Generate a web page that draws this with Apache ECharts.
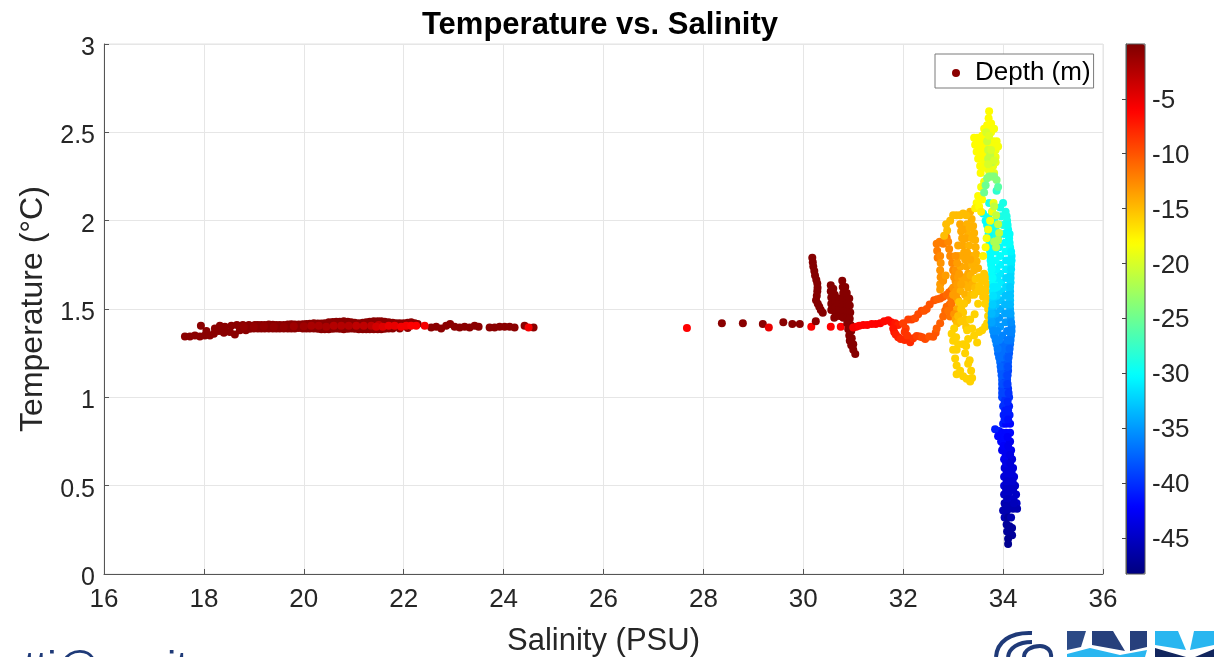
<!DOCTYPE html>
<html><head><meta charset="utf-8">
<style>html,body{margin:0;padding:0;background:#fff;overflow:hidden}#c{width:1214px;height:657px}</style>
<script src="https://cdn.jsdelivr.net/npm/echarts@6/dist/echarts.min.js"></script>
</head><body><div id="c"></div>
<script>
// each point: [salinity PSU, temperature C, depth m]
const bandDark = [[17.62,1.345,-0.5],[17.72,1.345,-0.5],[17.82,1.35,-0.5],[17.92,1.345,-0.5],[18.02,1.35,-0.5],[18.12,1.35,-0.5],[17.94,1.405,-0.5],[18.05,1.375,-0.5],[18.2,1.36,-0.5],[18.22,1.39,-0.5],[18.3,1.375,-0.5],[18.32,1.405,-0.5],[18.4,1.365,-0.5],[18.42,1.4,-0.5],[18.52,1.37,-0.5],[18.55,1.405,-0.5],[18.62,1.355,-0.5],[18.66,1.41,-0.5],[18.72,1.38,-0.5],[18.78,1.41,-0.5],[18.84,1.38,-0.5],[18.9,1.41,-0.5],[19.02,1.41,-0.5],[19.0,1.39,-0.5],[19.15,1.41,-0.5],[19.15,1.39,-0.5],[19.3,1.412,-0.5],[19.3,1.39,-0.5],[19.45,1.41,-0.5],[19.45,1.39,-0.5],[19.6,1.41,-0.5],[19.6,1.39,-0.5],[19.75,1.413,-0.5],[19.75,1.39,-0.5],[19.9,1.412,-0.5],[19.9,1.392,-0.5],[20.05,1.415,-0.5],[20.05,1.39,-0.5],[20.2,1.42,-0.5],[20.2,1.39,-0.5],[20.35,1.418,-0.5],[20.35,1.385,-0.5],[20.5,1.425,-0.5],[20.5,1.385,-0.5],[20.65,1.428,-0.5],[20.65,1.39,-0.5],[20.8,1.43,-0.5],[20.8,1.385,-0.5],[20.95,1.425,-0.5],[20.95,1.39,-0.5],[21.1,1.42,-0.5],[21.1,1.385,-0.5],[21.25,1.425,-0.5],[21.25,1.385,-0.5],[21.4,1.43,-0.5],[21.4,1.385,-0.5],[21.55,1.43,-0.5],[21.55,1.385,-0.5],[21.7,1.425,-0.5],[21.7,1.39,-0.5],[21.85,1.42,-0.5],[22.0,1.42,-0.5],[22.15,1.425,-0.5],[22.28,1.415,-0.5],[22.55,1.395,-0.5],[22.65,1.40,-0.5],[22.75,1.39,-0.5],[22.85,1.405,-0.5],[22.93,1.415,-0.5],[23.02,1.40,-0.5],[23.12,1.395,-0.5],[23.22,1.40,-0.5],[23.32,1.395,-0.5],[23.42,1.405,-0.5],[23.5,1.40,-0.5],[23.72,1.395,-0.5],[23.82,1.395,-0.5],[23.92,1.40,-0.5],[24.02,1.40,-0.5],[24.12,1.40,-0.5],[24.22,1.395,-0.5],[24.42,1.405,-0.5],[24.6,1.395,-0.5]];
const bandFill = [[18.92,1.388,-0.5],[19.08,1.41,-0.5],[19.08,1.39,-0.5],[19.22,1.41,-0.5],[19.22,1.39,-0.5],[19.38,1.411,-0.5],[19.38,1.39,-0.5],[19.52,1.41,-0.5],[19.52,1.39,-0.5],[19.68,1.412,-0.5],[19.68,1.39,-0.5],[19.82,1.412,-0.5],[19.82,1.39,-0.5],[19.98,1.413,-0.5],[19.98,1.39,-0.5],[20.12,1.417,-0.5],[20.12,1.39,-0.5],[20.28,1.418,-0.5],[20.28,1.388,-0.5],[20.42,1.42,-0.5],[20.42,1.385,-0.5],[20.58,1.426,-0.5],[20.58,1.388,-0.5],[20.72,1.428,-0.5],[20.72,1.388,-0.5],[20.88,1.428,-0.5],[20.88,1.388,-0.5],[21.02,1.422,-0.5],[21.02,1.388,-0.5],[21.18,1.422,-0.5],[21.18,1.385,-0.5],[21.32,1.428,-0.5],[21.32,1.385,-0.5],[21.48,1.43,-0.5],[21.48,1.385,-0.5],[21.62,1.428,-0.5],[21.62,1.388,-0.5],[21.78,1.422,-0.5],[21.78,1.39,-0.5],[21.92,1.42,-0.5],[21.92,1.39,-0.5],[22.08,1.422,-0.5],[22.08,1.392,-0.5],[22.22,1.42,-0.5]];
const bandMid = [[18.8,1.40,-1],[19.0,1.40,-1],[19.2,1.402,-1],[19.4,1.40,-1],[19.6,1.40,-1],[19.8,1.402,-1.5],[20.0,1.402,-1.5],[20.15,1.405,-2],[20.3,1.405,-2],[20.45,1.40,-2],[20.6,1.405,-2.5],[20.75,1.405,-2.5],[20.9,1.405,-2.5],[21.05,1.405,-3],[21.2,1.405,-3],[21.35,1.405,-3],[21.5,1.41,-3]];
const bandRed = [[21.45,1.40,-4],[21.58,1.40,-4.5],[21.7,1.405,-5],[21.82,1.405,-5],[21.95,1.40,-5.5],[22.05,1.405,-5.5],[22.15,1.405,-6],[22.25,1.405,-6],[22.42,1.405,-5.5],[24.5,1.395,-5.5]];
const sparseDots = [[27.67,1.392,-6],[28.37,1.42,-0.5],[28.79,1.42,-0.5],[29.19,1.415,-0.5],[29.31,1.395,-5],[29.6,1.425,-0.5],[29.78,1.415,-0.5],[29.93,1.415,-0.5],[30.16,1.40,-6],[30.25,1.43,-0.5],[30.55,1.40,-6],[30.75,1.40,-6]];
const darkSpike = [[30.18,1.79,-0.3],[30.19,1.765,-0.3],[30.2,1.74,-0.3],[30.22,1.715,-0.3],[30.235,1.69,-0.3],[30.26,1.665,-0.3],[30.28,1.645,-0.3],[30.285,1.62,-0.3],[30.28,1.60,-0.3],[30.27,1.575,-0.3],[30.255,1.55,-0.3],[30.29,1.53,-0.3],[30.32,1.513,-0.3],[30.35,1.495,-0.3],[30.39,1.479,-0.3]];
const darkBlock = [[30.55,1.635,-0.3],[30.55,1.60,-0.3],[30.56,1.565,-0.3],[30.56,1.53,-0.3],[30.56,1.495,-0.3],[30.6,1.615,-0.3],[30.63,1.58,-0.3],[30.64,1.545,-0.3],[30.65,1.51,-0.3],[30.65,1.475,-0.3],[30.62,1.45,-0.3],[30.72,1.56,-0.3],[30.72,1.525,-0.3],[30.72,1.49,-0.3],[30.72,1.46,-0.3],[30.78,1.66,-0.3],[30.79,1.625,-0.3],[30.8,1.59,-0.3],[30.8,1.555,-0.3],[30.8,1.52,-0.3],[30.8,1.485,-0.3],[30.8,1.45,-0.3],[30.84,1.625,-0.3],[30.87,1.59,-0.3],[30.88,1.555,-0.3],[30.88,1.52,-0.3],[30.88,1.485,-0.3],[30.88,1.45,-0.3],[30.92,1.56,-0.3],[30.93,1.52,-0.3],[30.94,1.48,-0.3],[30.93,1.445,-0.3],[30.95,1.41,-0.3],[30.88,1.42,-0.3],[30.9,1.385,-0.3],[30.96,1.375,-0.3],[30.92,1.35,-0.3],[30.93,1.32,-0.3],[30.97,1.335,-0.3],[30.96,1.295,-0.3],[31.0,1.30,-0.3],[31.0,1.27,-0.3],[31.04,1.245,-0.3]];
const redPath = [[31.0,1.395,-5.5],[31.06,1.40,-5.5],[31.12,1.405,-6],[31.2,1.41,-6],[31.28,1.41,-6],[31.37,1.415,-6],[31.45,1.415,-6],[31.54,1.42,-6],[31.62,1.43,-6.5],[31.7,1.437,-6.5],[31.76,1.425,-6.5],[31.84,1.42,-7],[31.9,1.41,-7.5],[31.8,1.39,-7],[31.82,1.37,-7],[31.85,1.355,-7.5],[31.9,1.34,-7.5],[31.95,1.33,-8],[32.03,1.325,-8],[32.1,1.33,-8],[32.14,1.312,-8],[32.2,1.335,-8.5]];
const orangePath = [[32.0,1.42,-9],[32.05,1.39,-9],[32.03,1.37,-8.5],[32.08,1.35,-8.5],[32.1,1.44,-9],[32.17,1.44,-9],[32.24,1.447,-9.5],[32.3,1.47,-9.5],[32.37,1.49,-9.5],[32.42,1.49,-10],[32.47,1.50,-10],[32.53,1.525,-10],[32.62,1.55,-10],[32.68,1.555,-10.5],[32.74,1.56,-10.5],[32.8,1.57,-10.5],[32.87,1.58,-11],[32.92,1.595,-11],[32.97,1.607,-11],[32.27,1.347,-9],[32.33,1.345,-9],[32.38,1.34,-9.5],[32.44,1.33,-9.5],[32.52,1.345,-10],[32.6,1.343,-10],[32.65,1.365,-10],[32.67,1.39,-10.5],[32.74,1.42,-10.5],[32.8,1.457,-11],[32.84,1.49,-11],[32.87,1.513,-11],[32.93,1.525,-11],[32.97,1.53,-11.5],[32.94,1.457,-11.5],[32.9,1.49,-11.5],[32.96,1.49,-11.5],[32.96,1.56,-11.5]];
const orangeZigzag = [[32.67,1.87,-12],[32.73,1.88,-12],[32.8,1.87,-12],[32.87,1.905,-12],[32.68,1.83,-12],[32.69,1.79,-12],[32.74,1.80,-12.5],[32.75,1.76,-13],[32.74,1.72,-13],[32.75,1.68,-13],[32.74,1.64,-13.5],[32.74,1.61,-13.5],[32.8,1.66,-13],[32.9,1.88,-12.5],[32.92,1.84,-12.5],[32.94,1.80,-12.5],[32.98,1.76,-12.5],[33.0,1.72,-12.5],[33.02,1.68,-13],[33.05,1.72,-13],[33.05,1.655,-13],[33.0,1.62,-13],[33.06,1.60,-13.5],[33.08,1.64,-13.5],[33.1,1.68,-13.5],[32.85,1.69,-13.5],[33.0,1.58,-13.5]];
const amberStripes = [[33.14,1.98,-14],[33.16,1.94,-14],[33.18,1.90,-14],[33.2,1.86,-14],[33.22,1.82,-14],[33.24,1.78,-14],[33.27,1.74,-14],[33.3,1.70,-14],[33.32,1.66,-14],[33.34,2.05,-14.5],[33.37,2.01,-14.5],[33.4,1.97,-14.5],[33.42,1.93,-14.5],[33.44,1.89,-14.5],[33.45,1.85,-14.5],[33.46,1.81,-14.5],[33.47,1.77,-14.5],[33.5,1.73,-14.5],[33.26,2.03,-15],[33.2,2.04,-15],[33.14,2.03,-15],[33.07,2.03,-15],[33.0,2.03,-15],[32.94,2.0,-15],[32.86,1.98,-15],[32.88,1.945,-15],[32.82,1.915,-15],[33.28,1.98,-14.5],[33.3,1.92,-14.5],[33.32,1.86,-14.5],[33.36,1.80,-14.5],[33.38,1.75,-14.5],[33.1,1.86,-14],[33.12,1.80,-14],[33.15,1.74,-14],[33.18,1.68,-14],[33.22,1.64,-14.5],[33.3,1.62,-14.5],[33.38,1.64,-14.5],[33.15,1.60,-14.5],[33.24,1.58,-14.5],[33.1,1.55,-14]];
const amberFill = [[33.2,1.95,-14],[33.25,1.9,-14],[33.38,1.9,-14.5],[33.33,1.96,-14.5],[33.28,1.82,-14],[33.34,1.78,-14],[33.42,1.72,-14.5],[33.26,1.68,-14],[33.35,1.69,-14.5],[33.12,1.7,-13.5],[33.08,1.76,-13.5],[33.05,1.8,-13],[33.16,1.64,-14],[33.28,1.55,-15],[33.36,1.58,-15],[33.44,1.62,-15],[33.52,1.63,-15.5],[33.6,1.57,-15.5],[33.08,1.5,-14],[33.02,1.47,-13],[33.06,1.57,-13.5],[33.05,1.44,-14]];
const goldScatter = [[33.45,1.67,-15.5],[33.52,1.68,-15.5],[33.58,1.66,-15.5],[33.62,1.70,-15.5],[33.66,1.68,-15.5],[33.68,1.64,-15.5],[33.6,1.61,-15.5],[33.5,1.60,-15.5],[33.42,1.58,-15.5],[33.66,1.60,-15.5],[33.68,1.56,-15.5],[33.64,1.53,-16],[33.12,1.54,-15.5],[33.16,1.50,-15.5],[33.2,1.48,-15.5],[33.22,1.53,-15.5],[33.1,1.46,-15],[33.08,1.42,-15],[33.16,1.43,-15.5],[33.24,1.44,-15.5],[33.26,1.40,-15.5],[33.02,1.39,-16],[32.97,1.36,-16],[33.0,1.32,-16],[33.06,1.34,-16],[33.1,1.30,-16],[33.07,1.27,-16],[33.0,1.27,-16],[33.04,1.22,-16],[33.07,1.18,-16],[33.07,1.13,-16],[33.14,1.15,-16],[33.2,1.12,-16],[33.27,1.105,-16],[33.34,1.09,-16],[33.38,1.11,-16],[33.36,1.15,-16],[33.3,1.19,-16],[33.33,1.21,-16],[33.24,1.25,-16],[33.2,1.3,-16],[33.26,1.29,-16],[33.3,1.33,-16],[33.28,1.38,-16],[33.34,1.44,-16],[33.38,1.39,-16],[33.42,1.35,-16],[33.48,1.31,-16],[33.52,1.37,-16],[33.58,1.38,-16],[33.64,1.40,-16],[33.68,1.42,-16],[33.7,1.46,-16],[33.7,1.5,-16],[33.5,1.53,-16],[33.43,1.47,-16]];
const yellowCrest = [[33.72,2.62,-18],[33.71,2.58,-18],[33.73,2.54,-18],[33.76,2.50,-18.5],[33.68,2.50,-18],[33.64,2.47,-18],[33.58,2.48,-18],[33.42,2.47,-18],[33.44,2.43,-18],[33.47,2.39,-18],[33.5,2.35,-18],[33.54,2.31,-18],[33.55,2.27,-18],[33.52,2.46,-18],[33.55,2.42,-18],[33.6,2.40,-18],[33.66,2.43,-18],[33.72,2.43,-19],[33.8,2.45,-19],[33.87,2.45,-18.5],[33.85,2.40,-19],[33.8,2.36,-19],[33.75,2.38,-19],[33.68,2.36,-18.5],[33.62,2.34,-18.5],[33.74,2.32,-19],[33.8,2.31,-19],[33.76,2.27,-19],[33.82,2.27,-19.5],[33.62,2.22,-18.5],[33.56,2.19,-18.5],[33.5,2.14,-18],[33.47,2.10,-18],[33.44,2.07,-17.5],[33.52,2.08,-18],[33.56,2.05,-17.5],[33.58,2.12,-18]];
const yellowFill = [[33.62,2.52,-18],[33.68,2.54,-18],[33.76,2.55,-18],[33.82,2.52,-18.5],[33.48,2.47,-18],[33.55,2.45,-18],[33.6,2.45,-18],[33.7,2.47,-18.5],[33.76,2.44,-18.5],[33.82,2.42,-18.5],[33.9,2.42,-18.5],[33.56,2.37,-18],[33.63,2.38,-18],[33.7,2.39,-18.5],[33.78,2.4,-18.5],[33.85,2.36,-19],[33.62,2.3,-18.5],[33.68,2.31,-18.5],[33.85,2.33,-19],[33.72,2.28,-19],[33.8,2.25,-19.5]];
const limeCap = [[33.66,2.50,-20],[33.68,2.45,-20.5],[33.7,2.40,-20.5],[33.7,2.35,-21],[33.74,2.37,-21],[33.78,2.33,-21],[33.72,2.48,-19.5],[33.76,2.4,-20],[33.82,2.34,-20],[33.7,2.32,-20],[33.68,2.24,-24],[33.72,2.25,-24],[33.77,2.25,-24],[33.82,2.25,-24],[33.65,2.2,-25],[33.87,2.23,-24],[33.62,2.16,-25],[33.9,2.19,-26]];
const deepColumn = [[33.6,2.04,-30],[33.65,2.0,-30],[33.7,1.95,-30],[33.72,1.9,-30],[33.74,1.85,-30],[33.74,1.8,-30],[33.76,1.75,-30],[33.78,1.7,-30],[33.8,1.65,-30],[33.8,1.6,-31],[33.8,1.55,-32],[33.78,1.5,-33],[33.77,1.45,-34],[33.78,1.4,-35],[33.82,1.35,-36],[33.87,1.3,-36],[33.9,1.25,-37],[33.94,1.2,-37],[33.96,1.15,-38],[33.98,1.1,-38],[33.98,1.05,-39],[33.98,1.0,-39],[33.72,2.1,-29],[33.78,2.05,-29],[33.82,2.0,-29],[33.85,1.95,-29],[33.9,1.9,-30],[33.92,1.85,-30],[33.94,1.8,-30],[33.94,1.75,-30.5],[33.94,1.7,-31],[33.96,1.65,-31],[33.96,1.6,-32],[33.95,1.55,-33],[33.94,1.5,-34],[33.92,1.45,-35],[33.94,1.4,-35],[33.98,1.35,-36],[34.0,1.3,-37],[34.02,1.25,-37],[34.04,1.2,-38],[34.05,1.15,-38],[34.05,1.1,-39],[34.05,1.05,-39],[34.05,1.0,-40],[33.87,2.17,-28],[34.0,2.10,-29],[34.05,2.05,-29],[34.08,2.0,-29],[34.1,1.95,-30],[34.12,1.9,-30],[34.14,1.85,-30],[34.17,1.8,-31],[34.16,1.75,-31],[34.15,1.7,-32],[34.15,1.65,-32],[34.14,1.6,-33],[34.14,1.55,-33],[34.14,1.5,-34],[34.15,1.45,-35],[34.17,1.4,-36],[34.16,1.35,-36],[34.14,1.3,-37],[34.12,1.25,-38],[34.1,1.2,-38],[34.1,1.15,-39],[34.08,1.1,-39],[34.1,1.05,-40],[34.12,1.0,-40]];
const columnFillLeft = [[33.7,2.02,-29],[33.76,1.975,-29],[33.79,1.925,-29],[33.82,1.875,-30],[33.84,1.825,-30],[33.85,1.775,-30],[33.86,1.725,-30.5],[33.88,1.675,-31],[33.88,1.625,-31],[33.87,1.575,-32],[33.85,1.525,-33],[33.85,1.475,-34],[33.85,1.425,-35],[33.88,1.375,-35.5],[33.92,1.325,-36],[33.96,1.275,-37],[33.98,1.225,-37],[34.0,1.175,-38],[34.02,1.125,-38],[34.02,1.075,-39],[34.02,1.025,-39],[33.68,1.975,-30],[33.71,1.925,-30],[33.73,1.875,-30],[33.74,1.825,-30],[33.75,1.775,-30],[33.77,1.725,-30],[33.79,1.675,-30],[33.8,1.625,-31],[33.8,1.575,-31.5],[33.79,1.525,-32.5],[33.77,1.475,-33.5],[33.77,1.425,-34.5],[33.8,1.375,-35.5],[33.85,1.325,-36],[33.89,1.275,-36.5],[33.92,1.225,-37],[33.95,1.175,-37.5],[33.97,1.125,-38],[33.98,1.075,-38.5],[33.98,1.025,-39]];
const columnFillRight = [[33.94,2.075,-29],[33.96,2.025,-29],[34.0,1.975,-29],[34.02,1.925,-30],[34.04,1.875,-30],[34.05,1.825,-30],[34.06,1.775,-31],[34.06,1.725,-31],[34.06,1.675,-32],[34.06,1.625,-32],[34.05,1.575,-33],[34.04,1.525,-33.5],[34.04,1.475,-34.5],[34.05,1.425,-35],[34.08,1.375,-36],[34.08,1.325,-36.5],[34.07,1.275,-37],[34.08,1.225,-37.5],[34.08,1.175,-38],[34.07,1.125,-38.5],[34.07,1.075,-39],[34.07,2.025,-29],[34.09,1.975,-29.5],[34.13,1.925,-30],[34.13,1.875,-30],[34.16,1.825,-30.5],[34.17,1.775,-31],[34.16,1.725,-31.5],[34.15,1.675,-32],[34.14,1.625,-32.5],[34.14,1.575,-33],[34.14,1.525,-33.5],[34.15,1.475,-34.5],[34.16,1.425,-35.5],[34.17,1.375,-36],[34.15,1.325,-36.5],[34.13,1.275,-37.5],[34.11,1.225,-38],[34.1,1.175,-38.5],[34.09,1.125,-39],[34.09,1.075,-39.5],[34.11,1.025,-40]];
const abyssColumn = [[34.0,0.95,-40],[34.06,0.95,-40],[34.12,0.95,-41],[34.01,0.9,-41],[34.07,0.9,-41],[34.13,0.9,-41],[34.0,0.85,-41],[34.06,0.85,-42],[34.14,0.85,-42],[33.84,0.82,-41],[33.92,0.81,-41],[33.9,0.78,-42],[33.98,0.8,-42],[34.06,0.8,-42],[34.14,0.8,-42],[33.96,0.75,-42],[34.04,0.75,-42],[34.14,0.75,-43],[33.98,0.7,-43],[34.06,0.7,-43],[34.16,0.7,-43],[34.02,0.65,-43],[34.1,0.65,-43],[34.18,0.65,-44],[34.03,0.6,-44],[34.08,0.6,-44],[34.2,0.6,-44],[34.02,0.55,-44],[34.12,0.55,-44],[34.22,0.55,-44],[34.02,0.5,-44],[34.07,0.5,-45],[34.16,0.5,-45],[34.24,0.5,-45],[34.02,0.45,-45],[34.1,0.45,-45],[34.26,0.45,-45],[34.03,0.4,-46],[34.12,0.4,-46],[34.27,0.4,-45],[34.0,0.36,-46],[34.08,0.36,-46],[34.2,0.37,-46],[34.28,0.37,-46],[34.03,0.32,-46],[34.1,0.32,-47],[34.16,0.32,-46],[34.07,0.28,-47],[34.13,0.27,-47],[34.18,0.26,-47],[34.08,0.24,-47],[34.14,0.23,-47],[34.18,0.22,-47],[34.1,0.2,-47.5],[34.1,0.17,-47.5]];
const abyssFill = [[34.03,0.975,-40],[34.09,0.975,-40.5],[34.04,0.925,-41],[34.1,0.925,-41],[34.03,0.875,-41],[34.1,0.875,-41.5],[34.02,0.775,-42],[34.09,0.775,-42.5],[34.01,0.725,-42.5],[34.1,0.725,-43],[34.05,0.675,-43],[34.14,0.675,-43.5],[34.06,0.625,-43.5],[34.14,0.625,-44],[34.07,0.575,-44],[34.17,0.575,-44],[34.07,0.525,-44.5],[34.19,0.525,-44.5],[34.06,0.475,-45],[34.14,0.475,-45],[34.2,0.475,-45],[34.08,0.425,-45.5],[34.21,0.425,-45],[34.05,0.385,-46],[34.15,0.38,-46],[34.22,0.4,-45.5]];
const limeSpur = [[33.81,2.1,-19],[33.78,2.05,-18.5],[33.74,2.0,-18.5],[33.7,1.95,-18.5],[33.67,1.9,-18.5],[33.65,1.85,-18],[33.6,1.8,-17.5],[33.82,2.08,-21],[33.86,2.03,-21],[33.9,1.98,-21],[33.92,1.93,-21],[33.9,1.89,-22],[33.86,1.85,-22],[33.82,1.88,-22]];

const xTicks = [16,18,20,22,24,26,28,30,32,34,36];
const yTicks = [0,0.5,1,1.5,2,2.5,3];
const depthTicks = [-5,-10,-15,-20,-25,-30,-35,-40,-45];
const jet = ['#00007f','#0000ff','#007fff','#00ffff','#7fff7f','#ffff00','#ff7f00','#ff0000','#7f0000'];

const pts = [].concat(bandFill,bandDark,bandMid,bandRed,sparseDots,darkSpike,darkBlock,redPath,orangePath,orangeZigzag,amberStripes,amberFill,goldScatter,deepColumn,columnFillLeft,columnFillRight,abyssColumn,abyssFill,yellowCrest,yellowFill,limeCap,limeSpur);
const ink = '#262626', font = '"Liberation Sans", Arial, sans-serif';
const logoBlue = '#1f3a78', logoSky = '#29b6f0';
const curve = (x1,y1,cpx1,cpy1,cpx2,cpy2,x2,y2) => ({type:'bezierCurve',shape:{x1,y1,cpx1,cpy1,cpx2,cpy2,x2,y2},style:{fill:'none',stroke:logoBlue,lineWidth:4}});
const chart = echarts.init(document.getElementById('c'), null, {renderer:'canvas'});
chart.setOption({
  animation:false,
  backgroundColor:'#fff',
  title:{text:'Temperature vs. Salinity',left:595,top:5,textAlign:'center',textStyle:{fontFamily:font,fontSize:31,fontWeight:'bold',color:'#000'}},
  grid:[
    {left:104,top:44,width:999,height:530,outerBoundsMode:'none',show:true,borderColor:'#e2e2e2',borderWidth:1,backgroundColor:'transparent'},
    {left:1126,top:44,width:19,height:530,outerBoundsMode:'none',show:true,borderColor:'#555',borderWidth:1,backgroundColor:'transparent',z:5}
  ],
  xAxis:[
    {type:'value',gridIndex:0,min:16,max:36,interval:2,name:'Salinity (PSU)',nameLocation:'middle',nameGap:52,nameTextStyle:{fontFamily:font,fontSize:31,color:ink},
     axisLine:{show:true,onZero:false,lineStyle:{color:'#555',width:1}},axisTick:{show:true,inside:true,length:5,lineStyle:{color:'#555'}},
     axisLabel:{fontFamily:font,fontSize:26,color:ink,margin:13,customValues:xTicks},splitLine:{show:true,lineStyle:{color:'#e6e6e6',width:1}}},
    {type:'value',gridIndex:1,min:0,max:1,show:false}
  ],
  yAxis:[
    {type:'value',gridIndex:0,min:0,max:3,interval:0.5,name:'Temperature (°C)',nameLocation:'middle',nameGap:47,nameTextStyle:{fontFamily:font,fontSize:32,color:ink},
     axisLine:{show:true,onZero:false,lineStyle:{color:'#555',width:1}},axisTick:{show:true,inside:true,length:5,lineStyle:{color:'#555'}},
     axisLabel:{margin:9,customValues:yTicks,formatter:'{a|{value}}',rich:{a:{fontFamily:font,fontSize:25,color:ink,padding:[8,0,0,0]}}},splitLine:{show:true,lineStyle:{color:'#e6e6e6',width:1}}},
    {type:'value',gridIndex:1,min:-48.3,max:0,position:'right',z:6,splitLine:{show:false},
     axisLine:{show:true,lineStyle:{color:'#555',width:1}},
     axisTick:{show:true,inside:true,length:4,customValues:depthTicks,lineStyle:{color:'#444'}},
     axisLabel:{margin:7,customValues:depthTicks,formatter:'{a|{value}}',rich:{a:{fontFamily:font,fontSize:26,color:ink,padding:[4,0,0,0]}}}}
  ],
  visualMap:{type:'continuous',seriesIndex:0,dimension:2,min:-48.3,max:0,left:1126,top:44,itemWidth:19,itemHeight:530,padding:0,calculable:false,hoverLink:false,text:['',''],showLabel:false,z:1,inRange:{color:jet}},
  legend:{show:true,left:935,top:54,padding:[6,3,2,17],orient:'horizontal',borderColor:'#7a7a7a',borderWidth:1,backgroundColor:'#fff',itemWidth:8,itemHeight:8,selectedMode:false,
    textStyle:{fontFamily:font,fontSize:26,color:'#000',padding:[0,0,0,10]},
    data:[{name:'Depth (m)',icon:'circle',itemStyle:{color:'#8b0000',opacity:1}}]},
  series:[{name:'Depth (m)',type:'scatter',xAxisIndex:0,yAxisIndex:0,symbol:'circle',symbolSize:8,itemStyle:{opacity:1},data:pts,silent:true,large:false}],
  graphic:[
    {type:'text',x:24,y:648,style:{text:'tti@cnr.it',font:'42px '+font,fill:logoBlue,textVerticalAlign:'top'}},
    curve(1032,633,1010,632,997,642,996,657),
    curve(1032,642,1018,642,1009,648,1008,657),
    curve(1024,657,1024,650,1032,646,1040,646),
    curve(1040,646,1047,646,1052,651,1051,657),
    {type:'polygon',shape:{points:[[1067,631],[1086,631],[1081,647],[1067,650]]},style:{fill:'#2c4a86'}},
    {type:'polygon',shape:{points:[[1092,631],[1113,631],[1125,651],[1092,645]]},style:{fill:'#27407c'}},
    {type:'polygon',shape:{points:[[1130,631],[1147,631],[1147,647],[1130,651]]},style:{fill:'#27407c'}},
    {type:'polygon',shape:{points:[[1067,654],[1090,648],[1120,655],[1147,650],[1145,657],[1067,657]]},style:{fill:logoSky}},
    {type:'polygon',shape:{points:[[1155,631],[1178,631],[1186,650],[1155,645]]},style:{fill:logoSky}},
    {type:'polygon',shape:{points:[[1194,631],[1214,631],[1214,645],[1190,650]]},style:{fill:logoSky}},
    {type:'polygon',shape:{points:[[1155,648],[1186,657],[1155,657]]},style:{fill:'#12265e'}},
    {type:'polygon',shape:{points:[[1214,649],[1195,657],[1214,657]]},style:{fill:'#12265e'}}
  ]
});
</script></body></html>
